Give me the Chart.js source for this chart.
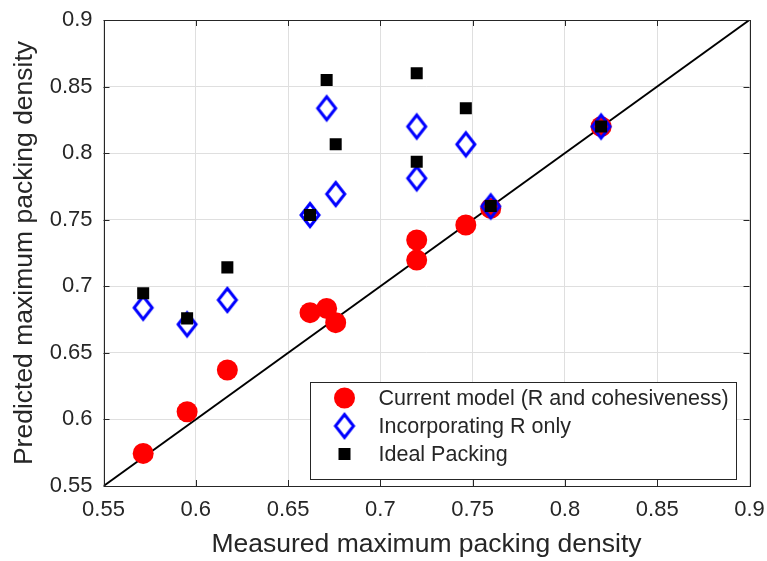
<!DOCTYPE html>
<html>
<head>
<meta charset="utf-8">
<script src="https://cdn.jsdelivr.net/npm/chart.js@4.4.1/dist/chart.umd.min.js"></script>
<style>
  html, body { margin: 0; padding: 0; background: #fff; }
</style>
</head>
<body>
<canvas id="chart" width="767" height="561"></canvas>
<script>
// measured values (shared x for all three series)
const measured     = [0.5715, 0.5953, 0.6171, 0.6619, 0.6709, 0.6758, 0.7197, 0.7197, 0.7463, 0.7598, 0.8196];
const currentModel = [0.5745, 0.6058, 0.6371, 0.6802, 0.6834, 0.6727, 0.7348, 0.7197, 0.7460, 0.7585, 0.8199];
const rOnly        = [0.6839, 0.6714, 0.6897, 0.7535, 0.8337, 0.7693, 0.8200, 0.7811, 0.8066, 0.7600, 0.8200];
const idealPacking = [0.6947, 0.6759, 0.7142, 0.7535, 0.8549, 0.8066, 0.8600, 0.7936, 0.8337, 0.7603, 0.8200];
const identity     = [0.55, 0.9];

const tickValues = [0.55, 0.6, 0.65, 0.7, 0.75, 0.8, 0.85, 0.9];
const tickLabels = ['0.55', '0.6', '0.65', '0.7', '0.75', '0.8', '0.85', '0.9'];

const seriesLabels = ['Current model (R and cohesiveness)', 'Incorporating R only', 'Ideal Packing'];

const AXIS = '#262626';
const FONT = "'Liberation Sans', Arial, sans-serif";

const pts = ys => measured.map((x, i) => ({ x: x, y: ys[i] }));

// tall hollow diamond like matlab's 'd' marker
function makeDiamond() {
    const c = document.createElement('canvas');
    c.width = 28; c.height = 34;
    const g = c.getContext('2d');
    g.strokeStyle = '#0000ff';
    g.lineWidth = 3;
    g.lineJoin = 'miter';
    g.beginPath();
    g.moveTo(14, 5.5);
    g.lineTo(23, 17);
    g.lineTo(14, 28.5);
    g.lineTo(5, 17);
    g.closePath();
    g.stroke();
    return c;
}
const diamond = makeDiamond();

// box around plot + inward tick marks
const framePlugin = {
    id: 'frame',
    afterDatasetsDraw(chart) {
        const { ctx, chartArea: a, scales } = chart;
        ctx.save();
        ctx.strokeStyle = AXIS;
        ctx.lineWidth = 1;
        ctx.beginPath();
        tickValues.forEach(v => {
            const px = Math.round(scales.x.getPixelForValue(v)) + 0.5;
            const py = Math.round(scales.y.getPixelForValue(v)) + 0.5;
            ctx.moveTo(px, a.bottom); ctx.lineTo(px, a.bottom - 6);
            ctx.moveTo(px, a.top); ctx.lineTo(px, a.top + 6);
            ctx.moveTo(a.left, py); ctx.lineTo(a.left + 6, py);
            ctx.moveTo(a.right, py); ctx.lineTo(a.right - 6, py);
        });
        ctx.stroke();
        ctx.strokeRect(Math.round(a.left) + 0.5, Math.round(a.top) + 0.5,
            Math.round(a.right - a.left), Math.round(a.bottom - a.top));
        ctx.restore();
    }
};

// legend box in the lower right corner of the plot
const legendPlugin = {
    id: 'boxLegend',
    afterDraw(chart) {
        const { ctx, chartArea: a } = chart;
        const w = 426, h = 97;
        const x0 = Math.round(a.right - 14 - w) + 0.5;
        const y0 = Math.round(a.bottom - 7 - h) + 0.5;
        ctx.save();
        ctx.fillStyle = '#fff';
        ctx.fillRect(x0, y0, w, h);
        ctx.strokeStyle = AXIS;
        ctx.lineWidth = 1;
        ctx.strokeRect(x0, y0, w, h);

        const mx = x0 + 34;
        const rows = [y0 + 15.5, y0 + 43.5, y0 + 71.5];

        ctx.fillStyle = '#ff0000';
        ctx.beginPath();
        ctx.arc(mx, rows[0], 10.5, 0, Math.PI * 2);
        ctx.fill();
        ctx.drawImage(diamond, mx - diamond.width / 2, rows[1] - diamond.height / 2);
        ctx.fillStyle = '#000';
        ctx.fillRect(mx - 6, rows[2] - 6, 12, 12);

        ctx.fillStyle = AXIS;
        ctx.font = '21.5px ' + FONT;
        ctx.textBaseline = 'middle';
        ctx.textAlign = 'left';
        seriesLabels.forEach((t, i) => ctx.fillText(t, x0 + 68, rows[i] + 1));
        ctx.restore();
    }
};

function axisOptions(title, titlePad, fitFn) {
    return {
        type: 'linear',
        min: 0.55,
        max: 0.9,
        afterBuildTicks: s => { s.ticks = tickValues.map(v => ({ value: v })); },
        afterFit: fitFn,
        grid: { color: '#dfdfdf', lineWidth: 1, drawTicks: false },
        border: { display: false },
        ticks: {
            color: AXIS,
            padding: 11,
            font: { family: FONT, size: 22 },
            callback: (v, i) => tickLabels[i]
        },
        title: {
            display: true,
            text: title,
            color: AXIS,
            padding: titlePad,
            font: { family: FONT, size: 26.5 }
        }
    };
}

new Chart(document.getElementById('chart'), {
    type: 'scatter',
    data: {
        datasets: [
            {
                label: seriesLabels[2],
                data: pts(idealPacking),
                pointStyle: 'rect',
                pointRadius: 8.5,
                pointHoverRadius: 8.5,
                backgroundColor: '#000',
                borderWidth: 0,
                order: 1
            },
            {
                label: seriesLabels[1],
                data: pts(rOnly),
                pointStyle: diamond,
                order: 2
            },
            {
                label: seriesLabels[0],
                data: pts(currentModel),
                pointStyle: 'circle',
                pointRadius: 10.5,
                pointHoverRadius: 10.5,
                backgroundColor: '#ff0000',
                borderWidth: 0,
                order: 3
            },
            {
                type: 'line',
                label: 'y = x',
                data: identity.map(v => ({ x: v, y: v })),
                borderColor: '#000',
                borderWidth: 2,
                pointRadius: 0,
                fill: false,
                order: 4
            }
        ]
    },
    options: {
        responsive: false,
        animation: false,
        events: [],
        layout: { padding: { top: 20, right: 17.5, left: 0, bottom: 0 } },
        plugins: {
            legend: { display: false },
            tooltip: { enabled: false }
        },
        scales: {
            x: axisOptions('Measured maximum packing density', { top: 0, bottom: 0 }, s => {
                s.height = 75;
                s.paddingLeft = 0;
                s.paddingRight = 0;
            }),
            y: axisOptions('Predicted maximum packing density', { top: 9, bottom: 0 }, s => {
                s.width = 103.5;
                s.paddingTop = 0;
                s.paddingBottom = 0;
            })
        }
    },
    plugins: [framePlugin, legendPlugin]
});
</script>
</body>
</html>
